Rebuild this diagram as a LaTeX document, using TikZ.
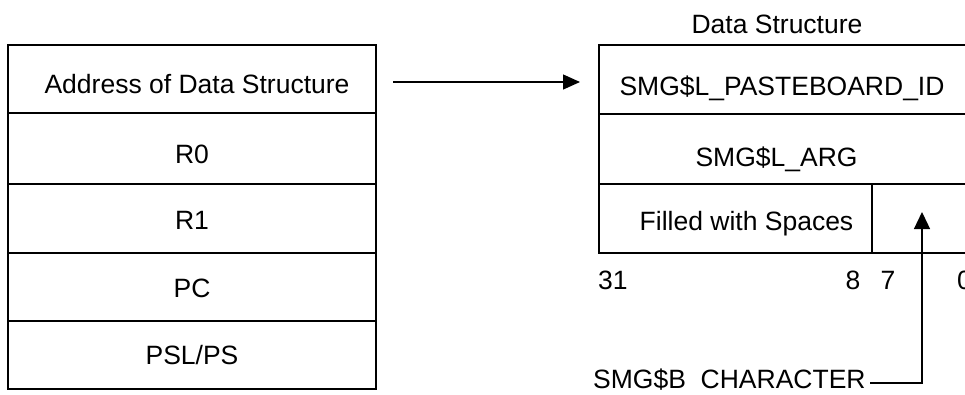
\documentclass[tikz,border=0pt]{standalone}
\usepackage{fontspec}
\setmainfont{Liberation Sans}
\usetikzlibrary{arrows.meta}
\begin{document}
\begin{tikzpicture}[x=1pt,y=-1pt,
  cell/.style={draw=black, line width=1.3pt, rectangle, inner sep=0pt, outer sep=0pt},
  txt/.style={font=\fontsize{26.5}{30}\selectfont, inner sep=0pt, anchor=base},
  txtw/.style={txt, anchor=base west},
  conn/.style={draw=black, line width=1.3pt, -{Triangle[length=17pt,width=15pt]}}
]
\useasboundingbox (0,0) rectangle (965,394);
% left stack
\node[cell, minimum width=368pt, minimum height=68pt] (c1) at (192,79) {};
\node[cell, minimum width=368pt, minimum height=71pt] (c2) at (192,148.5) {};
\node[cell, minimum width=368pt, minimum height=69pt] (c3) at (192,218.5) {};
\node[cell, minimum width=368pt, minimum height=68pt] (c4) at (192,287) {};
\node[cell, minimum width=368pt, minimum height=68pt] (c5) at (192,355) {};
\node[txt] (t1) at (197,93) {Address of Data Structure};
\node[txt] (t2) at (192,163) {R0};
\node[txt] (t3) at (192,229) {R1};
\node[txt] (t4) at (192,297) {PC};
\node[txt] (t5) at (192,364) {PSL/PS};
% data structure
\node[txt] (title) at (777,33) {Data Structure};
\node[cell, minimum width=381pt, minimum height=69pt] (d1) at (789.5,79.5) {};
\node[cell, minimum width=381pt, minimum height=70pt] (d2) at (789.5,149) {};
\node[cell, minimum width=273pt, minimum height=69pt] (d3) at (735.5,218.5) {};
\node[cell, minimum width=108pt, minimum height=69pt] (d4) at (926,218.5) {};
\node[txt] (u1) at (782,95) {SMG\$L\_PASTEBOARD\_ID};
\node[txt] (u2) at (776.5,166) {SMG\$L\_ARG};
\node[txt] (u3) at (746.5,230) {Filled with Spaces};
% bit numbers
\node[txtw] (b31) at (598,289) {31};
\node[txt] (b8) at (853,289) {8};
\node[txt] (b7) at (888,289) {7};
\node[txtw] (b0) at (957,289) {0};
% character label
\node[txtw] (chr) at (593,388) {SMG\$B\ \ CHARACTER};
\coordinate (chrend) at (870,383);
\coordinate (chrtip) at (922,212);
% connectors
\draw[conn, shorten <=17pt, shorten >=19pt] ([yshift=-3pt]c1.east) -- ([yshift=-2.5pt]d1.west);
\draw[conn, -{Triangle[length=17pt,width=16pt]}] (chrend) -| (chrtip);
\end{tikzpicture}
\end{document}
